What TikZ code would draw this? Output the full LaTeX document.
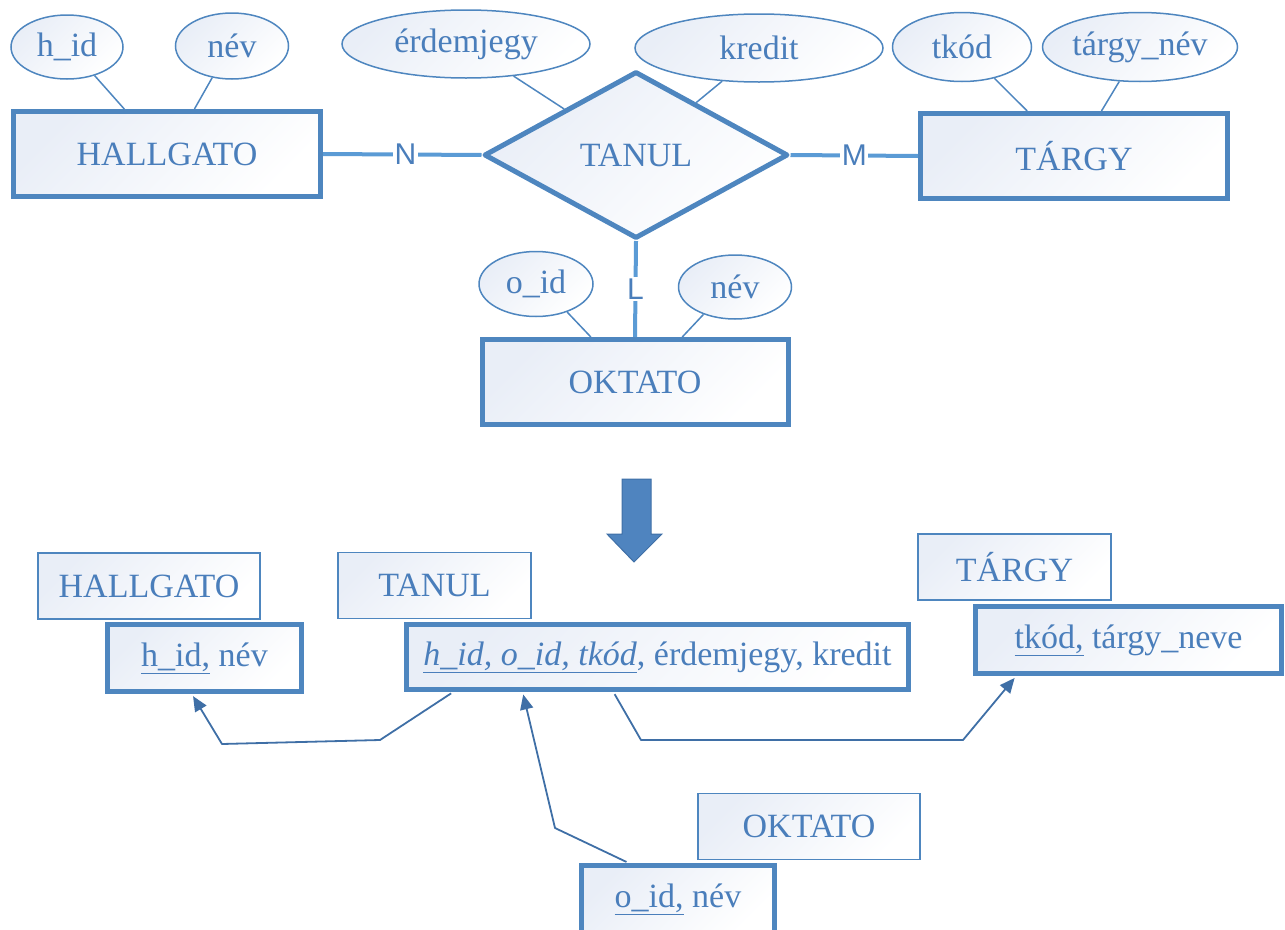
\documentclass[tikz,border=0pt]{standalone}
\usepackage{fontspec}
\setmainfont{Liberation Serif}
\newfontfamily\cardfont{Liberation Sans}
\usetikzlibrary{shapes.geometric,arrows.meta,calc}
\definecolor{txtblue}{HTML}{4A7EBB}
\definecolor{edgeblue}{HTML}{4E86BF}
\definecolor{linkblue}{HTML}{5B9BD5}
\definecolor{arrowblue}{HTML}{3F6FA6}
\definecolor{shadeblue}{HTML}{E9EEF7}
\definecolor{bigarrow}{HTML}{4F84BF}

\begin{document}
\begin{tikzpicture}[x=1pt,y=-1pt,
  every node/.style={text=txtblue, font=\fontsize{34}{39}\selectfont},
  dims/.style 2 args={minimum width=#1pt, minimum height=#2pt},
  gradfill/.style={top color=shadeblue, bottom color=white, shading angle=45},
  entity/.style={rectangle, draw=edgeblue, line width=5pt, gradfill, inner sep=0pt},
  relship/.style={diamond, draw=edgeblue, line width=5pt, line join=round, gradfill, inner sep=0pt},
  attrib/.style={ellipse, draw=edgeblue, line width=1.5pt, gradfill, inner sep=0pt},
  tablabel/.style={rectangle, draw=edgeblue, line width=1.5pt, gradfill, inner sep=0pt},
  tablebox/.style={rectangle, draw=edgeblue, line width=5pt, gradfill, inner sep=0pt},
  attrline/.style={draw=edgeblue, line width=1.5pt},
  relline/.style={draw=linkblue, line width=4pt},
  card/.style={fill=white, inner sep=1.5pt, text=txtblue, font=\cardfont\fontsize{30}{33}\selectfont},
  fk/.style={draw=arrowblue, line width=1.8pt, line join=round,
    -{Triangle[length=15pt,width=13pt]}, shorten >=2.5pt, shorten <=2.5pt},
]
\useasboundingbox (0,0) rectangle (1285,929);

% ---------- ER diagram ----------
\node[entity, dims={307}{85}] (hallgato) at (167,154) {HALLGATO};
\node[entity, dims={307}{85}] (targy) at (1074,156) {TÁRGY};
\node[entity, dims={306}{85}] (oktato) at (635,382) {OKTATO};
\node[relship, dims={304}{167}] (tanul) at (636,155) {TANUL};

\node[attrib, dims={112}{64}] (hid) at (67,47) {h\_id};
\node[attrib, dims={113}{66}] (hnev) at (232,46) {név};
\node[attrib, dims={248}{68}] (erdem) at (466,44) {érdemjegy};
\node[attrib, dims={248}{68}] (kredit) at (759,48) {kredit};
\node[attrib, dims={139}{69}] (tkod) at (962,47) {tkód};
\node[attrib, dims={195}{69}] (tnev) at (1140,47) {tárgy\_név};
\node[attrib, dims={114}{65}] (oid) at (536,284) {o\_id};
\node[attrib, dims={113}{64}] (onev) at (735,287) {név};

% attribute links
\draw[attrline] (hid.-46) -- ($(hallgato.north west)!0.363!(hallgato.north east)$);
\draw[attrline] (hnev.-122) -- ($(hallgato.north west)!0.588!(hallgato.north east)$);
\draw[attrline] (erdem.-34) -- ($(tanul.west)!0.535!(tanul.north)$);
\draw[attrline] (kredit.-138) -- ($(tanul.north)!0.39!(tanul.east)$);
\draw[attrline] (tkod.-44) -- ($(targy.north west)!0.35!(targy.north east)$);
\draw[attrline] (tnev.-121) -- ($(targy.north west)!0.588!(targy.north east)$);
\draw[attrline] (oid.-42) -- ($(oktato.north west)!0.358!(oktato.north east)$);
\draw[attrline] (onev.-139) -- ($(oktato.north west)!0.652!(oktato.north east)$);

% relationship links with cardinalities
\draw[relline] (hallgato.east) -- node[card, pos=0.52] {N} (tanul.west);
\draw[relline] (tanul.east) -- node[card] {M} (targy.west);
\draw[relline] (tanul.south) -- node[card] {L} (oktato.north);

% ---------- transformation arrow ----------
\filldraw[fill=bigarrow, draw=arrowblue, line width=1pt]
  (622,479) -- (651,479) -- (651,534) -- (662,534) -- (634,562) -- (607,534) -- (622,534) -- cycle;

% ---------- relational schema ----------
\node[tablabel, dims={222}{66}] (lhall) at (149,586) {HALLGATO};
\node[tablabel, dims={193}{66}] (ltanul) at (434.5,585.5) {TANUL};
\node[tablabel, dims={193}{66}] (ltargy) at (1014.5,567) {TÁRGY};
\node[tablabel, dims={222}{66}] (lokt) at (809,826.5) {OKTATO};

\node[tablebox, dims={194}{67}] (ahall) at (204.5,658) {\underline{h\_id,} név};
\node[tablebox, dims={502}{65}] (atanul) at (657.5,657) {\underline{\textit{h\_id, o\_id, tkód}}, érdemjegy, kredit};
\node[tablebox, dims={306}{67}] (atargy) at (1128.5,640) {\underline{tkód,} tárgy\_neve};
\node[tablebox, dims={193}{67}] (aokt) at (678,899) {\underline{o\_id,} név};

% foreign key references
\coordinate (h1) at (380,740);
\coordinate (h2) at (222,744);
\draw[fk] ($(atanul.south west)!0.097!(atanul.south east)$) -- (h1) -- (h2)
  -- ($(ahall.south west)!0.436!(ahall.south east)$);

\coordinate (o1) at (555,828);
\draw[fk] ($(aokt.north west)!0.251!(aokt.north east)$) -- (o1)
  -- ($(atanul.south west)!0.234!(atanul.south east)$);

\coordinate (t1) at (641,740);
\coordinate (t2) at (963,740);
\draw[fk] ($(atanul.south west)!0.413!(atanul.south east)$) -- (t1) -- (t2)
  -- ($(atargy.south west)!0.139!(atargy.south east)$);
\end{tikzpicture}
\end{document}
